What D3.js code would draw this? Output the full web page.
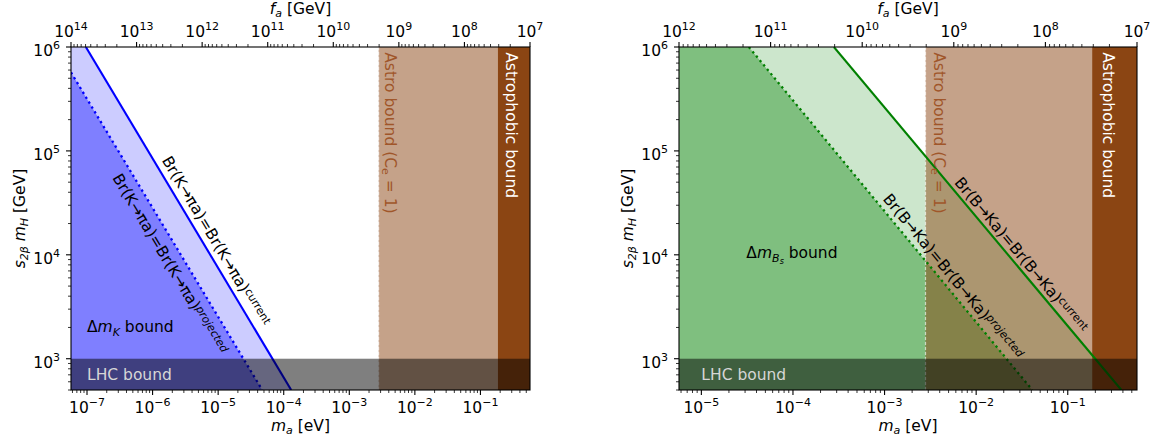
<!DOCTYPE html>
<html>
<head>
<meta charset="utf-8">
<script src="https://cdn.jsdelivr.net/npm/d3@7"></script>
<style>
	body { margin: 0; background: #fff; }
	text { font-family: "DejaVu Sans", sans-serif; }
</style>
</head>
<body>
<script>
// m_a * f_a, eV * GeV (sets the top axis)
const maTimesFa = 5.7e6
const yDomain = [500, 1e6]
const yTicks = [1e3, 1e4, 1e5, 1e6]
const lhcBound = 1e3
const astroBound = 2.8e-3
const astrophobicBound = 0.185

// K -> pi a panel
const kaonXDomain = [5.7e-8, 0.57]
const kaonXTicks = [1e-7, 1e-6, 1e-5, 1e-4, 1e-3, 1e-2, 1e-1]
const kaonFaTicks = [1e14, 1e13, 1e12, 1e11, 1e10, 1e9, 1e8, 1e7]
const kaonCurrent = [[9.6e-8, 1e6], [1.3e-4, 500]]
const kaonProjected = [[5.7e-8, 5.7e5], [4.7e-5, 500]]

// B -> K a panel
const bXDomain = [5.7e-6, 0.57]
const bXTicks = [1e-5, 1e-4, 1e-3, 1e-2, 1e-1]
const bFaTicks = [1e12, 1e11, 1e10, 1e9, 1e8, 1e7]
const bCurrent = [[2.8e-4, 1e6], [0.385, 500]]
const bProjected = [[3.3e-5, 1e6], [4.1e-2, 500]]

const FS = 15.5, FS2 = 11

const svg = d3.select('body').append('svg').attr('width', 1157).attr('height', 441)

function minorTicks(domain) {
	let lo = Math.min(domain[0], domain[1]), hi = Math.max(domain[0], domain[1])
	let out = []
	for (let k = Math.floor(Math.log10(lo)); k <= Math.ceil(Math.log10(hi)); k++) {
		for (let j = 2; j < 10; j++) {
			let v = j * Math.pow(10, k)
			if (v >= lo && v <= hi) out.push(v)
		}
	}
	return out
}

function pow10(sel, v) {
	let e = Math.round(Math.log10(v))
	sel.append('tspan').text('10')
	sel.append('tspan').attr('dy', -7).attr('font-size', FS2).text(e < 0 ? '\u2212' + (-e) : e)
}

function drawPanel(p) {
	const x0 = p.left, x1 = p.right, y0 = 47, y1 = 390
	const x = d3.scaleLog().domain(p.xDomain).range([x0, x1])
	const y = d3.scaleLog().domain(yDomain).range([y1, y0])
	const fa = d3.scaleLog().domain([maTimesFa / p.xDomain[0], maTimesFa / p.xDomain[1]]).range([x0, x1])
	const [xmin, xmax] = p.xDomain
	const [ymin, ymax] = yDomain

	const g = svg.append('g')
	g.append('defs').append('clipPath').attr('id', p.id)
		.append('rect').attr('x', x0).attr('y', y0).attr('width', x1 - x0).attr('height', y1 - y0)
	const body = g.append('g').attr('clip-path', 'url(#' + p.id + ')')

	const poly = d3.line().x(d => x(d[0])).y(d => y(d[1]))
	const cur = p.current, proj = p.projected

	body.append('path')
		.attr('d', poly([[xmin, proj[0][1]], [xmin, cur[0][1]], cur[0], cur[1], proj[1], proj[0]]) + 'Z')
		.attr('fill', p.color).attr('fill-opacity', 0.2)
	body.append('path')
		.attr('d', poly([[xmin, ymin], [xmin, proj[0][1]], proj[0], proj[1]]) + 'Z')
		.attr('fill', p.color).attr('fill-opacity', 0.5)

	// astro bounds
	body.append('rect').attr('x', x(astroBound)).attr('y', y0)
		.attr('width', x(xmax) - x(astroBound)).attr('height', y1 - y0)
		.attr('fill', '#8b4513').attr('fill-opacity', 0.5)
	body.append('rect').attr('x', x(astrophobicBound)).attr('y', y0)
		.attr('width', x(xmax) - x(astrophobicBound)).attr('height', y1 - y0)
		.attr('fill', '#8b4513')
	body.append('line').attr('x1', x(astroBound)).attr('x2', x(astroBound)).attr('y1', y0).attr('y2', y1)
		.attr('stroke', '#fff').attr('stroke-opacity', 0.6).attr('stroke-width', 1.2).attr('stroke-dasharray', '3,2')

	// Br lines
	body.append('path').attr('d', poly(cur)).attr('stroke', p.color).attr('stroke-width', 2.1).attr('fill', 'none')
	body.append('path').attr('d', poly(proj)).attr('stroke', p.color).attr('stroke-width', 2.3)
		.attr('stroke-dasharray', '2.3,3.4').attr('fill', 'none')

	// LHC bound
	body.append('rect').attr('x', x0).attr('y', y(lhcBound))
		.attr('width', x1 - x0).attr('height', y1 - y(lhcBound))
		.attr('fill', '#000').attr('fill-opacity', 0.5)

	// labels along lines
	function lineLabel(line, at, sup) {
		let ang = Math.atan2(y(line[1][1]) - y(line[0][1]), x(line[1][0]) - x(line[0][0])) * 180 / Math.PI
		let t = g.append('text').attr('font-size', FS).attr('text-anchor', 'middle')
			.attr('transform', 'translate(' + x(at[0]) + ',' + y(at[1]) + ') rotate(' + ang + ')')
			.attr('dy', '0.35em')
		t.append('tspan').text(p.br + '=' + p.br)
		t.append('tspan').attr('dy', -4).attr('font-size', FS2).attr('font-style', sup === 'projected' ? 'italic' : null).text(sup)
	}
	lineLabel(cur, p.curLabelAt, 'current')
	lineLabel(proj, p.projLabelAt, 'projected')

	let dm = g.append('text').attr('font-size', FS).attr('x', x(p.dmAt[0])).attr('y', y(p.dmAt[1]))
	dm.append('tspan').text('\u0394')
	dm.append('tspan').attr('font-style', 'italic').text('m')
	if (p.dmSub2) {
		dm.append('tspan').attr('font-style', 'italic').attr('font-size', FS2).attr('dy', 4).text(p.dmSub)
		dm.append('tspan').attr('font-style', 'italic').attr('font-size', 8).attr('dy', 2).text(p.dmSub2)
		dm.append('tspan').attr('dy', -6).text(' bound')
	} else {
		dm.append('tspan').attr('font-style', 'italic').attr('font-size', FS2).attr('dy', 4).text(p.dmSub)
		dm.append('tspan').attr('dy', -4).text(' bound')
	}

	g.append('text').attr('font-size', FS).attr('fill', '#d6d6d6')
		.attr('x', x(p.lhcAt[0])).attr('y', y(p.lhcAt[1])).text('LHC bound')

	let at = g.append('text').attr('font-size', FS).attr('fill', '#a0562a')
		.attr('transform', 'translate(' + x(3.5e-3) + ',' + y(8.9e5) + ') rotate(90)')
	at.append('tspan').text('Astro bound (C')
	at.append('tspan').attr('font-size', FS2).attr('dy', 3).text('e')
	at.append('tspan').attr('dy', -3).text(' = 1)')
	g.append('text').attr('font-size', FS).attr('fill', '#fff')
		.attr('transform', 'translate(' + x(0.245) + ',' + y(8.9e5) + ') rotate(90)')
		.text('Astrophobic bound')

	// frame
	g.append('rect').attr('x', x0).attr('y', y0).attr('width', x1 - x0).attr('height', y1 - y0)
		.attr('fill', 'none').attr('stroke', '#000').attr('stroke-width', 1.1)

	// bottom axis
	const ax = g.append('g')
	ax.selectAll('.maj').data(p.xTicks).join('line')
		.attr('x1', d => x(d)).attr('x2', d => x(d)).attr('y1', y1).attr('y2', y1 + 5).attr('stroke', '#000').attr('stroke-width', 1.1)
	ax.selectAll('.min').data(minorTicks(p.xDomain)).join('line')
		.attr('x1', d => x(d)).attr('x2', d => x(d)).attr('y1', y1).attr('y2', y1 + 3).attr('stroke', '#000').attr('stroke-width', 0.8)
	p.xTicks.forEach(v => {
		let t = ax.append('text').attr('font-size', FS).attr('text-anchor', 'middle').attr('x', x(v)).attr('y', 413)
		pow10(t, v)
	})

	// top axis
	const at2 = g.append('g')
	at2.selectAll('.maj').data(p.faTicks).join('line')
		.attr('x1', d => fa(d)).attr('x2', d => fa(d)).attr('y1', y0).attr('y2', y0 - 5).attr('stroke', '#000').attr('stroke-width', 1.1)
	at2.selectAll('.min').data(minorTicks(fa.domain())).join('line')
		.attr('x1', d => fa(d)).attr('x2', d => fa(d)).attr('y1', y0).attr('y2', y0 - 3).attr('stroke', '#000').attr('stroke-width', 0.8)
	p.faTicks.forEach(v => {
		let t = at2.append('text').attr('font-size', FS).attr('text-anchor', 'middle').attr('x', fa(v)).attr('y', 37)
		pow10(t, v)
	})

	// left axis
	const ay = g.append('g')
	ay.selectAll('.maj').data(yTicks).join('line')
		.attr('x1', x0).attr('x2', x0 - 5).attr('y1', d => y(d)).attr('y2', d => y(d)).attr('stroke', '#000').attr('stroke-width', 1.1)
	ay.selectAll('.min').data(minorTicks(yDomain)).join('line')
		.attr('x1', x0).attr('x2', x0 - 3).attr('y1', d => y(d)).attr('y2', d => y(d)).attr('stroke', '#000').attr('stroke-width', 0.8)
	yTicks.forEach(v => {
		let t = ay.append('text').attr('font-size', FS).attr('text-anchor', 'end').attr('x', x0 - 11).attr('y', y(v) + 9)
		pow10(t, v)
	})

	// axis titles
	let xl = g.append('text').attr('font-size', FS).attr('text-anchor', 'middle').attr('x', (x0 + x1) / 2).attr('y', 431)
	xl.append('tspan').attr('font-style', 'italic').text('m')
	xl.append('tspan').attr('font-style', 'italic').attr('font-size', FS2).attr('dy', 3).text('a')
	xl.append('tspan').attr('dy', -3).text(' [eV]')

	let tl = g.append('text').attr('font-size', FS).attr('text-anchor', 'middle').attr('x', (x0 + x1) / 2).attr('y', 14)
	tl.append('tspan').attr('font-style', 'italic').text('f')
	tl.append('tspan').attr('font-style', 'italic').attr('font-size', FS2).attr('dy', 3).text('a')
	tl.append('tspan').attr('dy', -3).text(' [GeV]')

	let yl = g.append('text').attr('font-size', FS).attr('text-anchor', 'middle')
		.attr('transform', 'translate(' + (x0 - 46) + ',' + ((y0 + y1) / 2) + ') rotate(-90)')
	yl.append('tspan').attr('font-style', 'italic').text('s')
	yl.append('tspan').attr('font-style', 'italic').attr('font-size', FS2).attr('dy', 3).text('2\u03b2')
	yl.append('tspan').attr('dy', -3).text(' ')
	yl.append('tspan').attr('font-style', 'italic').text('m')
	yl.append('tspan').attr('font-style', 'italic').attr('font-size', FS2).attr('dy', 3).text('H')
	yl.append('tspan').attr('dy', -3).text(' [GeV]')
}

drawPanel({
	id: 'clipK', left: 71, right: 530, color: '#0000ff',
	xDomain: kaonXDomain, xTicks: kaonXTicks, faTicks: kaonFaTicks,
	current: kaonCurrent, projected: kaonProjected,
	br: 'Br(K\u2192\u03c0a)',
	curLabelAt: [9.3e-6, 1.36e4], projLabelAt: [1.85e-6, 8.2e3],
	dmAt: [1e-7, 1.8e3], dmSub: 'K', lhcAt: [1e-7, 630]
})

drawPanel({
	id: 'clipB', left: 679, right: 1137, color: '#008000',
	xDomain: bXDomain, xTicks: bXTicks, faTicks: bFaTicks,
	current: bCurrent, projected: bProjected,
	br: 'Br(B\u2192Ka)',
	curLabelAt: [0.031, 1e4], projLabelAt: [5.6e-3, 6.2e3],
	dmAt: [3.1e-5, 9.3e3], dmSub: 'B', dmSub2: 's', lhcAt: [1e-5, 630]
})
</script>
</body>
</html>
